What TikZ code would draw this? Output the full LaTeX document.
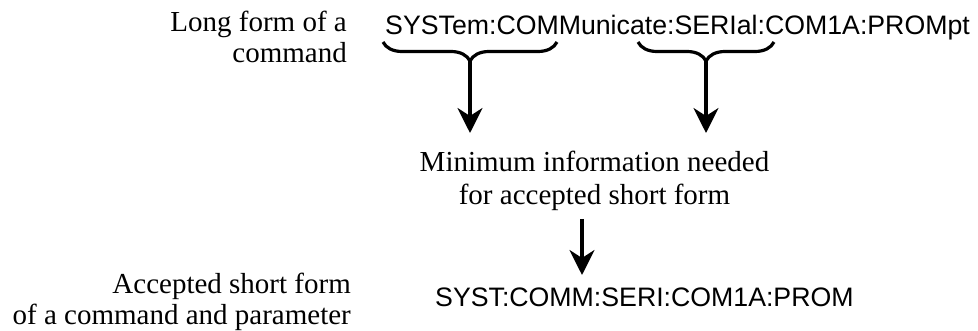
\documentclass[tikz,border=0pt]{standalone}
\usepackage{fontspec}
\setmainfont{Liberation Serif}
\newfontfamily\cmdfont{Liberation Sans}
\usetikzlibrary{arrows.meta,decorations.pathreplacing}
\begin{document}
\begin{tikzpicture}[x=1pt,y=-1pt,
  lbl/.style={inner sep=0pt,font=\fontsize{29}{31}\selectfont},
  cmd/.style={inner sep=0pt,font=\cmdfont\fontsize{26.7}{30}\selectfont},
  bracestyle/.style={line width=3.2pt,decorate,decoration={brace,mirror,amplitude=19pt,aspect=0.5}},
  arr/.style={line width=3.2pt,-{Stealth[length=25pt,width=25pt,inset=8pt]}}]
\useasboundingbox (0,0) rectangle (978,331);
% labels (base anchor = baseline of the last line)
\node[lbl,anchor=base east,align=right] (longlbl) at (347,63) {Long form of a\\command};
\node[lbl,anchor=base east,align=right] (shortlbl) at (351,324) {Accepted short form\\of a command and parameter};
\node[lbl,anchor=base,align=center,font=\fontsize{29}{33}\selectfont] (mininfo) at (594.5,205) {Minimum information needed\\for accepted short form};
% commands
\node[cmd,anchor=base west] (longcmd) at (385,35) {SYSTem:COMMunicate:SERIal:COM1A:PROMpt};
\node[cmd,anchor=base west] (shortcmd) at (435,306) {SYST:COMM:SERI:COM1A:PROM};
% braces
\coordinate (b1l) at (383,42); \coordinate (b1r) at (557,42);
\coordinate (b2l) at (638,42); \coordinate (b2r) at (774,42);
\draw[bracestyle] (b1l) -- (b1r);
\draw[bracestyle] (b2l) -- (b2r);
\coordinate (c1) at (470,61); \coordinate (t1) at (470,133);
\coordinate (c2) at (706,61); \coordinate (t2) at (706,133);
\coordinate (c3) at (582,219); \coordinate (t3) at (582,275);
\draw[arr] (c1) -- (t1);
\draw[arr] (c2) -- (t2);
\draw[arr] (c3) -- (t3);
\end{tikzpicture}
\end{document}
